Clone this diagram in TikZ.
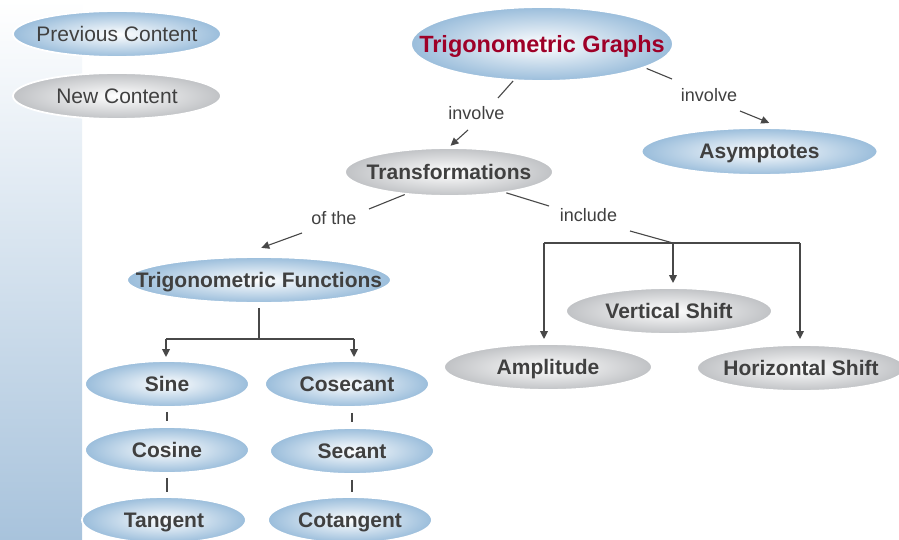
\documentclass[tikz,border=0pt]{standalone}
\usepackage{fontspec}
\setmainfont{Liberation Sans}
\usetikzlibrary{shapes.geometric,arrows.meta,calc}
\definecolor{bluee}{RGB}{154,189,219}
\definecolor{grayy}{RGB}{192,194,197}
\definecolor{txt}{RGB}{64,64,64}
\definecolor{ttl}{RGB}{158,0,40}
\definecolor{ln}{RGB}{72,72,72}
\definecolor{stripc}{RGB}{168,195,220}
\newcommand\nb[1]{\makebox[0pt]{#1}}
\begin{document}
\begin{tikzpicture}[x=1pt,y=-1pt,
 oval/.style={ellipse, inner sep=0pt, draw=white, line width=1.8pt, inner color=white, text=txt},
 blueoval/.style={oval, outer color=bluee},
 grayoval/.style={oval, outer color=grayy},
 bt/.style={font=\fontsize{21}{25}\selectfont\bfseries, text height=15pt, text depth=0pt},
 nt/.style={font=\fontsize{21}{25}\selectfont, text height=15pt, text depth=0pt},
 lbl/.style={font=\fontsize{18}{22}\selectfont, text=txt, inner sep=0pt},
 conn/.style={draw=ln, line width=1.1pt},
 tree/.style={draw=ln, line width=1.8pt},
 arr/.style={-{Triangle[length=8pt,width=7.5pt]}},
 big/.style={minimum width=208pt, minimum height=46pt},
 small/.style={minimum width=164pt, minimum height=46pt},
]
\fill[white] (0,0) rectangle (899,540);
\useasboundingbox (0,0) rectangle (899,540);
\shade[top color=white, bottom color=stripc] (0,0) rectangle (82,540);

% nodes
\node[blueoval, nt, big] (prev) at (117,34) {\nb{Previous Content}};
\node[grayoval, nt, big] (new) at (117,96) {\nb{New Content}};
\node[blueoval, minimum width=262pt, minimum height=74pt,
      font=\fontsize{23.5}{28}\selectfont\bfseries, text=ttl,
      text height=16.8pt, text depth=0pt] (tg) at (542,44) {\nb{Trigonometric Graphs}};
\node[blueoval, bt, minimum width=236pt, minimum height=47pt] (asym) at (759.5,151.5) {\nb{Asymptotes}};
\node[grayoval, bt, minimum width=208pt, minimum height=48pt] (trans) at (449,172) {\nb{Transformations}};
\node[blueoval, bt, minimum width=264pt, minimum height=46pt] (tf) at (259,280) {\nb{Trigonometric Functions}};
\node[grayoval, bt, minimum width=206pt, minimum height=46pt] (vs) at (669,311) {\nb{Vertical Shift}};
\node[grayoval, bt, big] (amp) at (548,367) {\nb{Amplitude}};
\node[grayoval, bt, big] (hs) at (801,368) {\nb{Horizontal Shift}};
\node[blueoval, bt, small] (sine) at (167,384) {\nb{Sine}};
\node[blueoval, bt, small] (cosec) at (347,384) {\nb{Cosecant}};
\node[blueoval, bt, small] (cosine) at (167,450) {\nb{Cosine}};
\node[blueoval, bt, small] (secant) at (352,451) {\nb{Secant}};
\node[blueoval, bt, small] (tangent) at (164,520) {\nb{Tangent}};
\node[blueoval, bt, small] (cotan) at (350,520) {\nb{Cotangent}};

% labels
\node[lbl] (inv1) at (476.5,113.5) {involve};
\node[lbl] (inv2) at (709,95.5) {involve};
\node[lbl] (ofthe) at (334,218.5) {of the};
\node[lbl] (incl) at (588.5,215) {include};

% free ends
\coordinate (a1) at (498,98);
\coordinate (a2) at (468,130);
\coordinate (b1) at (672,79);
\coordinate (b2) at (740,111);
\coordinate (c1) at (369,209);
\coordinate (c2) at (302,233);
\coordinate (d1) at (549,206);
\coordinate (d2) at (630,231);
\coordinate (j) at (673,243);
\coordinate (jl) at (544,243);
\coordinate (jr) at (800,243);
\coordinate (jf) at (259,339);
\coordinate (sl) at (166,339);
\coordinate (sr) at (354,339);

% connectors
\draw[conn] (tg.232) -- (a1);
\draw[conn,arr,shorten >=2pt] (a2) -- (trans.north);
\draw[conn,shorten <=2pt] (tg.-13) -- (b1);
\draw[conn,arr,shorten >=12pt] (b2) -- (asym.49);
\draw[conn] (trans.207) -- (c1);
\draw[conn,arr,shorten >=25pt] (c2) -- (tf.132);
\draw[conn] (trans.-20) -- (d1);
\draw[conn] (d2) -- (j);
\draw[tree] (jl) -- (jr);
\draw[tree,arr,shorten >=4pt] (jl) -- (jl |- amp.north);
\draw[tree,arr,shorten >=4pt] (j) -- (j |- vs.north);
\draw[tree,arr,shorten >=5pt] (jr) -- (jr |- hs.north);
\draw[tree,shorten <=4pt] (tf.south) -- (jf);
\draw[tree] (sl) -- (sr);
\draw[tree,arr,shorten >=3pt] (sl) -- (sl |- sine.north);
\draw[tree,arr,shorten >=3pt] (sr) -- (sr |- cosec.north);
\draw[conn,shorten <=4pt,shorten >=5pt] (sine.south) -- (cosine.north);
\draw[conn,shorten <=4pt,shorten >=4pt] (cosine.south) -- (cosine.south |- tangent.north);
\draw[conn,shorten <=5pt,shorten >=5pt] (secant.north |- cosec.south) -- (secant.north);
\draw[conn,shorten <=5pt,shorten >=4pt] (secant.south) -- (secant.south |- cotan.north);
\end{tikzpicture}
\end{document}
